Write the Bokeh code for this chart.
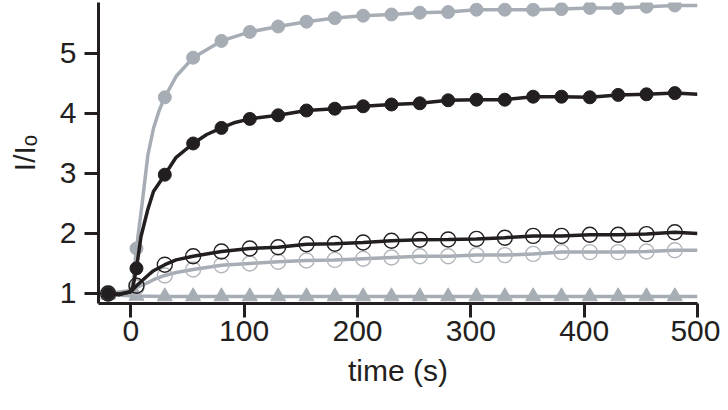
from bokeh.plotting import figure
from bokeh.models import Range1d, FixedTicker
from bokeh.embed import file_html
from bokeh.resources import INLINE

# ---- data ----
t_markers = [-20, 5, 30, 55, 80, 105, 130, 155, 180, 205, 230, 255, 280, 305, 330, 355, 380, 405, 430, 455, 480]

gray_filled = [1.0, 1.75, 4.27, 4.93, 5.21, 5.36, 5.45, 5.53, 5.59, 5.63, 5.65, 5.68, 5.69, 5.73, 5.73, 5.73, 5.74, 5.76, 5.76, 5.78, 5.80]
black_filled = [1.0, 1.42, 2.98, 3.50, 3.76, 3.91, 3.97, 4.05, 4.08, 4.12, 4.15, 4.17, 4.22, 4.23, 4.23, 4.28, 4.28, 4.27, 4.31, 4.32, 4.34]
black_open = [1.0, 1.13, 1.48, 1.62, 1.70, 1.75, 1.77, 1.82, 1.83, 1.85, 1.88, 1.895, 1.90, 1.91, 1.93, 1.96, 1.96, 1.98, 1.98, 1.99, 2.02]
gray_open = [1.0, 1.10, 1.30, 1.40, 1.47, 1.50, 1.53, 1.55, 1.56, 1.58, 1.60, 1.62, 1.62, 1.64, 1.64, 1.66, 1.69, 1.69, 1.69, 1.70, 1.72]
gray_triangle = [0.98, 0.96, 0.95, 0.95, 0.95, 0.95, 0.95, 0.95, 0.95, 0.95, 0.95, 0.95, 0.95, 0.95, 0.95, 0.95, 0.95, 0.95, 0.95, 0.95, 0.95]

# extra points of the continuous traces (between markers)
gray_filled_trace_t = [-25, 0, 2, 10, 15, 20, 25, 40, 500]
gray_filled_trace_v = [1.0, 1.05, 1.2, 2.5, 3.3, 3.75, 4.05, 4.62, 5.80]
black_filled_trace_t = [-25, -10, 0, 2, 9, 15, 20, 40, 67, 92, 500]
black_filled_trace_v = [1.0, 0.98, 1.03, 1.12, 1.95, 2.4, 2.7, 3.27, 3.65, 3.85, 4.32]
black_open_trace_t = [-25, -10, 0, 15, 20, 40, 500]
black_open_trace_v = [1.0, 0.99, 1.03, 1.3, 1.38, 1.56, 2.00]
gray_open_trace_t = [-25, -10, 0, 15, 20, 40, 500]
gray_open_trace_v = [1.0, 0.99, 1.02, 1.18, 1.23, 1.35, 1.72]
gray_triangle_trace_t = [-25, 500]
gray_triangle_trace_v = [0.98, 0.95]

x_ticks = [0, 100, 200, 300, 400, 500]
y_ticks = [1, 2, 3, 4, 5]

GRAY = "#a7adb4"
GRAY_OPEN = "#b1b6bc"
BLACK = "#231f20"
FONT = "Liberation Sans"


def trace(tm, vm, te, ve):
    pts = sorted(zip(list(tm) + list(te), list(vm) + list(ve)))
    return [p[0] for p in pts], [p[1] for p in pts]


p = figure(width=720, height=400, frame_width=599, frame_height=301,
           x_range=Range1d(-28.5, 500), y_range=Range1d(0.833, 5.85),
           output_backend="svg", toolbar_location=None,
           min_border_left=98, min_border_right=23, min_border_top=2, min_border_bottom=97)
p.outline_line_color = None
p.xgrid.grid_line_color = None
p.ygrid.grid_line_color = None
p.background_fill_color = "white"
p.border_fill_color = "white"

# triangles
tx, ty = trace(t_markers, gray_triangle, gray_triangle_trace_t, gray_triangle_trace_v)
p.line(tx, ty, line_color=GRAY, line_width=3.5)
p.scatter(t_markers, gray_triangle, marker="triangle", size=15, fill_color=GRAY, line_color=GRAY)

# gray open
tx, ty = trace(t_markers, gray_open, gray_open_trace_t, gray_open_trace_v)
p.line(tx, ty, line_color=GRAY, line_width=3.5)
p.scatter(t_markers, gray_open, marker="circle", size=15, fill_alpha=0, line_color=GRAY_OPEN, line_width=1.4)

# gray filled
tx, ty = trace(t_markers, gray_filled, gray_filled_trace_t, gray_filled_trace_v)
p.line(tx, ty, line_color=GRAY, line_width=3.5)
p.scatter(t_markers, gray_filled, marker="circle", size=13, fill_color=GRAY, line_color=GRAY)

# black open
tx, ty = trace(t_markers, black_open, black_open_trace_t, black_open_trace_v)
p.line(tx, ty, line_color=BLACK, line_width=3.5)
p.scatter(t_markers, black_open, marker="circle", size=15, fill_alpha=0, line_color=BLACK, line_width=1.4)

# black filled
tx, ty = trace(t_markers, black_filled, black_filled_trace_t, black_filled_trace_v)
p.line(tx, ty, line_color=BLACK, line_width=3.5)
p.scatter(t_markers, black_filled, marker="circle", size=13, fill_color=BLACK, line_color=BLACK)

for ax in (p.xaxis[0], p.yaxis[0]):
    ax.axis_line_color = BLACK
    ax.axis_line_width = 3
    ax.major_tick_line_color = BLACK
    ax.major_tick_line_width = 3
    ax.major_tick_out = 14
    ax.major_tick_in = 0
    ax.minor_tick_line_color = None
    ax.major_label_text_font = FONT
    ax.major_label_text_font_size = "30px"
    ax.major_label_text_color = BLACK
    ax.axis_label_text_font = FONT
    ax.axis_label_text_font_size = "30px"
    ax.axis_label_text_font_style = "normal"
    ax.axis_label_text_color = BLACK

p.xaxis[0].ticker = FixedTicker(ticks=x_ticks)
p.yaxis[0].ticker = FixedTicker(ticks=y_ticks)
p.xaxis[0].major_label_standoff = 3
p.yaxis[0].major_label_standoff = 8
p.xaxis[0].axis_label = "time (s)"
p.xaxis[0].axis_label_standoff = 10
p.yaxis[0].axis_label = "I/I\u2092"
p.yaxis[0].axis_label_standoff = 16

open("out.html", "w").write(file_html(p, INLINE))
